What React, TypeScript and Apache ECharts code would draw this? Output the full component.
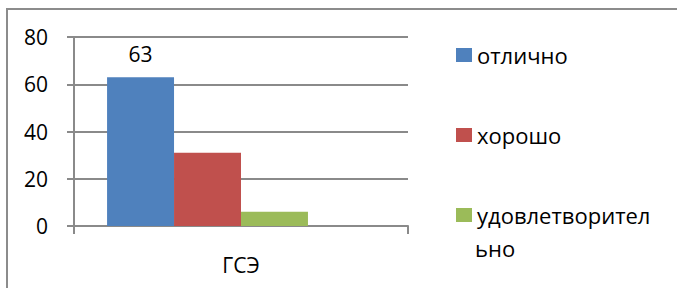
import React, { useEffect, useRef } from "react";
import * as echarts from "echarts";

const categories = ["ГСЭ"];
const seriesNames = ["отлично", "хорошо", "удовлетворительно", "неудовлетворительно"];
const excellent = [63];
const good = [31];
const satisfactory = [6];
const unsatisfactory: (number | null)[] = [null];
const yTicks = { min: 0, max: 80, interval: 20 };

const colors = ["#4F81BD", "#C0504D", "#9BBB59", "#8064A2"];
const FONT = "'Open Sans', sans-serif";

export default function App() {
  const ref = useRef<HTMLDivElement>(null);
  useEffect(() => {
    if (!ref.current) return;
    const chart = echarts.init(ref.current, undefined, { renderer: "svg" });
    const values = [excellent, good, satisfactory, unsatisfactory];
    chart.setOption({
      animation: false,
      color: colors,
      textStyle: { fontFamily: FONT },
      grid: { left: 74, right: 269, top: 37, bottom: 62, containLabel: false },
      graphic: [
        {
          type: "line",
          shape: { x1: 6, y1: 9, x2: 677, y2: 9 },
          style: { stroke: "#8c8c8c", lineWidth: 2 },
          silent: true,
        },
        {
          type: "line",
          shape: { x1: 7, y1: 8, x2: 7, y2: 288 },
          style: { stroke: "#8c8c8c", lineWidth: 2 },
          silent: true,
        },
        {
          type: "text",
          left: 475,
          top: 237,
          style: { text: "ьно", fontSize: 22, fontFamily: FONT, fill: "#000" },
          silent: true,
        },
      ],
      legend: {
        orient: "vertical",
        left: 451,
        top: 38,
        itemWidth: 16,
        itemHeight: 14,
        itemGap: 56,
        icon: "rect",
        data: seriesNames.slice(0, 3),
        formatter: (name: string) => (name === "удовлетворительно" ? "удовлетворител" : name),
        textStyle: { fontSize: 22, lineHeight: 24, color: "#000", fontFamily: FONT },
      },
      xAxis: {
        type: "category",
        data: categories,
        axisLine: { lineStyle: { color: "#8a8a8a", width: 2 } },
        axisTick: { show: true, length: 8, lineStyle: { color: "#8a8a8a", width: 2 } },
        axisLabel: { fontSize: 21, color: "#000", margin: 28, fontFamily: FONT },
      },
      yAxis: {
        type: "value",
        min: yTicks.min,
        max: yTicks.max,
        interval: yTicks.interval,
        axisLine: { show: true, lineStyle: { color: "#8a8a8a", width: 2 } },
        axisTick: { show: true, length: 7, lineStyle: { color: "#8a8a8a", width: 2 } },
        splitLine: { lineStyle: { color: "#8a8a8a", width: 2 } },
        axisLabel: { fontSize: 21, color: "#000", margin: 26, fontFamily: FONT },
      },
      series: seriesNames.map((name, i) => ({
        name,
        type: "bar",
        data: values[i],
        barGap: "0%",
        barCategoryGap: "19.8%",
        label:
          i === 0
            ? { show: true, position: "top", distance: 13, fontSize: 21, color: "#000", fontFamily: FONT }
            : { show: false },
      })),
    });
    return () => chart.dispose();
  }, []);
  return (
    <div
      ref={ref}
      style={{ position: "fixed", left: 0, top: 0, width: 677, height: 288, background: "#fff" }}
    />
  );
}
